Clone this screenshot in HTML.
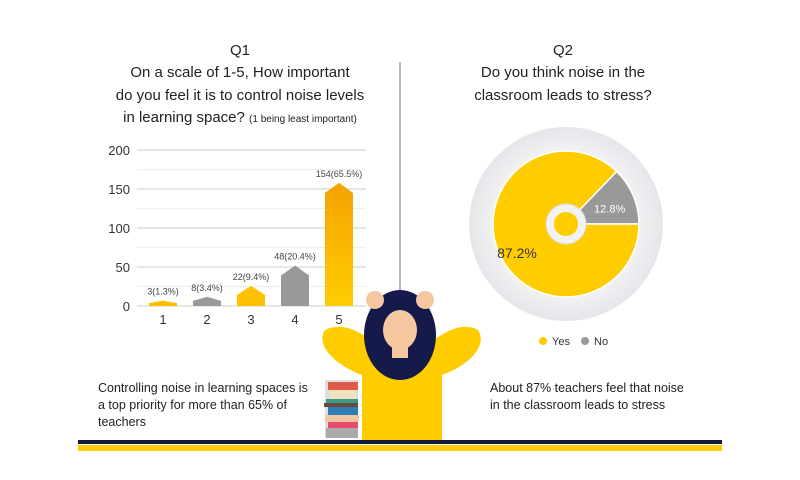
<!DOCTYPE html>
<html><head><meta charset="utf-8"><style>
body{margin:0;background:#fff;}
svg{display:block;font-family:"Liberation Sans",sans-serif;}
</style></head><body>
<svg id="s" width="800" height="480" viewBox="0 0 800 480">
<defs>
<linearGradient id="og" x1="0" y1="0" x2="0" y2="1"><stop offset="0" stop-color="#f4a300"/><stop offset="1" stop-color="#ffcc00"/></linearGradient>
<radialGradient id="disc" cx="0.5" cy="0.5" r="0.5"><stop offset="0.7" stop-color="#f4f4f6"/><stop offset="1" stop-color="#e6e6ea"/></radialGradient>
</defs>
<g fill="#222" text-anchor="middle" font-size="15">
<text x="240" y="55">Q1</text>
<text x="240" y="77">On a scale of 1-5, How important</text>
<text x="240" y="100">do you feel it is to control noise levels</text>
<text x="240" y="122">in learning space? <tspan font-size="10">(1 being least important)</tspan></text>
</g>
<g fill="#222" text-anchor="middle" font-size="15">
<text x="563" y="55">Q2</text>
<text x="563" y="77">Do you think noise in the</text>
<text x="563" y="100">classroom leads to stress?</text>
</g>
<line x1="400" y1="62" x2="400" y2="300" stroke="#888" stroke-width="1.2"/>
<g id="bars"></g>
<g id="pie"></g>
<g font-size="11" fill="#333">
<circle cx="543" cy="341" r="4" fill="#ffcc00"/><text x="552" y="345">Yes</text>
<circle cx="585" cy="341" r="4" fill="#999"/><text x="594" y="345">No</text>
</g>
<g font-size="12.5" fill="#222">
<text x="98" y="392">Controlling noise in learning spaces is</text>
<text x="98" y="409">a top priority for more than 65% of</text>
<text x="98" y="426">teachers</text>
</g>
<g font-size="12.5" fill="#222">
<text x="490" y="392">About 87% teachers feel that noise</text>
<text x="490" y="409">in the classroom leads to stress</text>
</g>
<g>
<rect x="325" y="380" width="33" height="58" fill="#ddd"/>
<rect x="328" y="382" width="30" height="8" fill="#e05a4a"/>
<rect x="330" y="390" width="26" height="9" fill="#f1e3c0"/>
<rect x="326" y="399" width="32" height="4" fill="#3a9a8a"/>
<rect x="324" y="403" width="34" height="4" fill="#6b4a3a"/>
<rect x="328" y="407" width="30" height="8" fill="#2e7db5"/>
<rect x="325" y="415" width="34" height="7" fill="#f2c6a0"/>
<rect x="328" y="422" width="30" height="6" fill="#e84a6e"/>
<rect x="326" y="428" width="32" height="10" fill="#aaa"/>
<path d="M362 440 L362 375 C335 365 315 345 325 330 C345 320 365 335 385 350 L420 350 C440 335 460 320 478 330 C488 345 470 365 442 375 L442 440 Z" fill="#ffcc00"/>
<ellipse cx="400" cy="335" rx="36" ry="45" fill="#161a4a"/>
<ellipse cx="400" cy="330" rx="17" ry="20" fill="#f6c8a0"/>
<rect x="392" y="346" width="16" height="12" fill="#f6c8a0"/>
<circle cx="375" cy="300" r="9" fill="#f6c8a0"/><circle cx="425" cy="300" r="9" fill="#f6c8a0"/>
</g>
<rect x="78" y="440" width="644" height="4" fill="#141a3e"/>
<rect x="78" y="445" width="644" height="6" fill="#ffcc00"/>
</svg>
<script>
const categories=["1","2","3","4","5"];
const counts=[3,8,22,48,154];
const labels=["3(1.3%)","8(3.4%)","22(9.4%)","48(20.4%)","154(65.5%)"];
const colors=["#ffc000","#999","#ffc000","#999","url(#og)"];
const yTicks=[0,50,100,150,200];
const pieLabels=["Yes","No"];
const pieValues=[87.2,12.8];
const NS="http://www.w3.org/2000/svg";
function mk(t,a,p){const e=document.createElementNS(NS,t);for(const k in a)e.setAttribute(k,a[k]);p.appendChild(e);return e;}
const x0=137,x1=366,yb=306,yt=150;
const y=v=>yb-(v/200)*(yb-yt);
const xs=i=>163+i*44;
const g=document.getElementById('bars');
yTicks.forEach(t=>{
 const l=mk('line',{x1:x0,x2:x1,y1:y(t),y2:y(t),stroke:'#ccc','stroke-width':1},g);
 
 
 if(t<200){
 const m=mk('line',{x1:x0,x2:x1,y1:y(t+25),y2:y(t+25),stroke:'#eee','stroke-width':1},g);
 
 
 }
 const tx=mk('text',{x:130,y:y(t)+5,'text-anchor':'end','font-size':13,fill:'#333'},g);tx.textContent=t;
 
 
});
counts.forEach((v,i)=>{
 const cx=xs(i),w=14,top=y(v)-3,sh=top+Math.min(10,(yb-top)*0.45);
 const p=mk('path',{d:`M${cx-w} ${yb} L${cx-w} ${sh} L${cx} ${top} L${cx+w} ${sh} L${cx+w} ${yb} Z`,fill:colors[i]},g);
 
 
 const t=mk('text',{x:cx,y:top-6,'text-anchor':'middle','font-size':9,fill:'#444'},g);t.textContent=labels[i];
 
 
 const c=mk('text',{x:cx,y:324,'text-anchor':'middle','font-size':13,fill:'#333'},g);c.textContent=categories[i];
 
 
});
const pg=document.getElementById('pie');
const cx=566,cy=224,R=73;
const d=mk('circle',{cx:cx,cy:cy,r:97,fill:'url(#disc)'},pg);


const tot=pieValues.reduce((a,b)=>a+b,0);
let a0=0;const pc=["#ffcc00","#999"];
const order=[1,0];
order.forEach(k=>{
 const sw=pieValues[k]/tot*2*Math.PI;
 const s=a0,e=a0+sw;a0=e;
 const P=a=>[cx+R*Math.cos(-a),cy+R*Math.sin(-a)];
 const [sx,sy]=P(s),[ex,ey]=P(e);
 const p=mk('path',{d:`M${cx} ${cy} L${sx} ${sy} A${R} ${R} 0 ${sw>Math.PI?1:0} 0 ${ex} ${ey} Z`,fill:pc[k],stroke:'#fff','stroke-width':1.5},pg);
 
 
 const m=(s+e)/2,lr=k===1?R*0.62:R*0.7;
 const t=mk('text',{x:cx+lr*Math.cos(-m)+(k===0?-2:2),y:cy+lr*Math.sin(-m)+(k===0?14:6),'text-anchor':'middle','font-size':k===1?11:14,fill:k===1?'#fff':'#333'},pg);
 t.textContent=pieValues[k].toFixed(1)+'%';
 
 
});
const r1=mk('circle',{cx:cx,cy:cy,r:20,fill:'#f2f2f2',stroke:'#ddd'},pg);


const r2=mk('circle',{cx:cx,cy:cy,r:12,fill:'#ffcc00'},pg);


</script>
</body></html>
